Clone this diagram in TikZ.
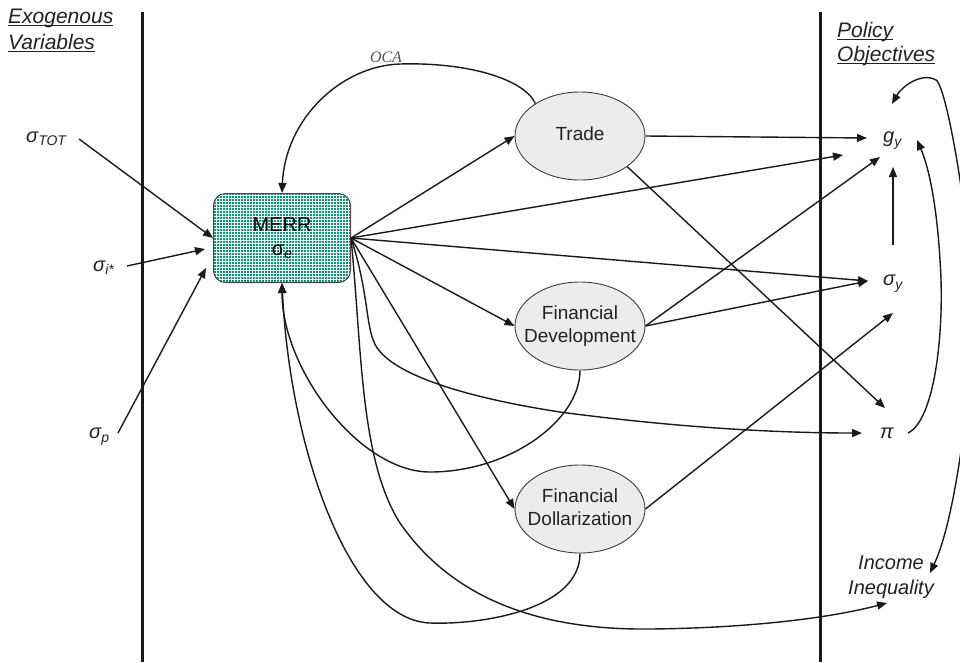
\documentclass[tikz,border=0pt]{standalone}
\usepackage{fontspec}
\setmainfont{Liberation Sans}
\newfontfamily\ocafont{Liberation Serif}
\usetikzlibrary{shapes.geometric,arrows.meta}
\definecolor{linec}{HTML}{1A1A1A}
\definecolor{textc}{HTML}{222222}
\definecolor{tealc}{HTML}{009C78}
\definecolor{ellc}{HTML}{EBECEC}
\definecolor{ocac}{HTML}{555555}
\newcommand\mysub[2][3]{\raisebox{-#1pt}{\fontsize{14}{14}\selectfont #2}}
\newcommand\ellt[1]{\makebox[0pt]{\begin{tabular}{@{}c@{}}#1\end{tabular}}}
\begin{document}
\begin{tikzpicture}[x=1pt,y=-1pt,
 conn/.style={line width=1.4pt, draw=linec, -{Triangle[length=10pt,width=8pt]}},
 dconn/.style={line width=1.4pt, draw=linec, {Triangle[length=10pt,width=8pt]}-{Triangle[length=10pt,width=8pt]}},
 sepline/.style={line width=2.2pt, draw=linec},
 uline/.style={line width=1pt, draw=textc},
 var/.style={inner sep=0pt, text=textc, font=\fontsize{20}{24}\selectfont\itshape, anchor=base west},
 head/.style={inner sep=0pt, text=textc, font=\fontsize{21}{24}\selectfont\itshape, anchor=base west},
 ell/.style={ellipse, draw=linec!85, line width=0.9pt, fill=ellc, minimum width=130pt, minimum height=88pt, inner sep=0pt, text=textc, font=\fontsize{19}{23}\selectfont},
 merrbox/.style={rectangle, rounded corners=12pt, draw=linec!80, line width=1pt, minimum width=137pt, minimum height=89pt, inner sep=0pt, text=black, align=center, font=\fontsize{20}{24}\selectfont},
 gridfill/.style={fill=tealc},
 gridline/.style={draw=white, line width=0.65pt},
 oca/.style={inner sep=0pt, text=ocac, font=\fontsize{16}{16}\selectfont\ocafont\itshape}]
\useasboundingbox (0,0) rectangle (960,662);
\clip (0,0) rectangle (960,662);
% separators
\draw[sepline] (142.5,12) -- (142.5,662);
\draw[sepline] (820.5,12) -- (820.5,662);
% headers
\node[head] (exo1) at (8,23) {Exogenous};
\node[head] (exo2) at (8,49) {Variables};
\node[head] (pol1) at (837,37) {Policy};
\node[head] (pol2) at (837,61) {Objectives};
\foreach \n in {exo1,exo2,pol1,pol2}{\draw[uline] ([yshift=-2.5pt]\n.base west) -- ([yshift=-2.5pt]\n.base east);}
% MERR patterned fill
\begin{scope}
\clip[rounded corners=12pt] (213.5,193.5) rectangle (350.5,282.5);
\fill[gridfill] (210,190) rectangle (355,286);
\draw[gridline, step=3pt, shift={(0.5,0.5)}] (207,187) grid (357,289);
\end{scope}
% main nodes
\node[merrbox] (merr) at (282,238) {MERR\\σ\mysub[3]{\itshape e}};
\node[ell] (trade) at (580,136) {\ellt{Trade}};
\node[ell] (fd) at (580,326) {\ellt{Financial\\Development}};
\node[ell] (dol) at (580,509) {\ellt{Financial\\Dollarization}};
% variables
\node[var] (stot) at (26,142) {σ\mysub[3]{TOT}};
\node[var] (si) at (93,271) {σ\mysub[3]{i*}};
\node[var] (sp) at (89,438) {σ\mysub[4]{p}};
\node[var] (gy) at (883,142) {g\mysub[4]{y}};
\node[var] (sy) at (883,285) {σ\mysub[4]{y}};
\node[var] (pi) at (880,438) {π};
\node[inner sep=0pt, text=textc, font=\fontsize{20}{25}\selectfont\itshape, align=center] (ineq) at (891,577) {Income\\Inequality};
\node[oca] (ocal) at (386,57) {OCA};
% free ends
\coordinate (stotE) at (79,139);
\coordinate (siE) at (127,266);
\coordinate (spE) at (118,433);
\coordinate (mSi) at (205,249);
\coordinate (mSp) at (206,268);
\coordinate (gyT) at (867,138);
\coordinate (gyM) at (843,155);
\coordinate (gyF) at (880,157);
\coordinate (gyS) at (893,167);
\coordinate (syN) at (893,245);
\coordinate (gyP) at (917,140);
\coordinate (gyI) at (892,104);
\coordinate (syW) at (868,281);
\coordinate (syD) at (893,313);
\coordinate (piT) at (885,408);
\coordinate (piM) at (862,433);
\coordinate (piE) at (908,433);
\coordinate (inM) at (887,603);
\coordinate (inR) at (930,573);
% exogenous arrows
\draw[conn] (stotE) -- (merr.west);
\draw[conn] (siE) -- (mSi);
\draw[conn] (spE) -- (mSp);
% OCA
\draw[conn] (trade.144) .. controls (525,80) and (470,62) .. (400,64) .. controls (340,66) and (285,120) .. (merr.north);
% from MERR
\draw[conn] (merr.east) -- (trade.west);
\draw[conn] (merr.east) -- (gyM);
\draw[conn] (merr.east) -- (syW);
\draw[conn] (merr.east) -- (fd.west);
\draw[conn] (merr.east) -- (dol.west);
\draw[conn] (merr.east) .. controls (368,290) and (366,325) .. (374,342) .. controls (385,370) and (450,395) .. (560,412) .. controls (680,428) and (780,433) .. (piM);
\draw[conn] (merr.east) .. controls (362,350) and (360,460) .. (400,523) .. controls (460,610) and (560,630) .. (650,629) .. controls (750,628) and (830,618) .. (inM);
% from Trade
\draw[conn] (trade.east) -- (gyT);
\draw[conn] (trade.-33) -- (piT);
% from FD
\draw[conn] (fd.east) -- (gyF);
\draw[conn] (fd.east) -- (syW);
\draw[conn] (fd.south) .. controls (580,420) and (510,472) .. (430,472) .. controls (360,472) and (282,370) .. (merr.south);
% from Dollarization
\draw[conn] (dol.east) -- (syD);
\draw[conn] (dol.south) .. controls (580,610) and (480,625) .. (430,623) .. controls (350,620) and (290,450) .. (merr.south);
% right side
\draw[conn] (syN) -- (gyS);
\draw[conn] (piE) .. controls (935,420) and (945,330) .. (940,260) .. controls (937,210) and (930,170) .. (gyP);
\draw[dconn] (gyI) .. controls (902,86) and (922,72) .. (936,80) .. controls (948,87) and (975,250) .. (972,330) .. controls (970,400) and (955,520) .. (inR);
\end{tikzpicture}
\end{document}
